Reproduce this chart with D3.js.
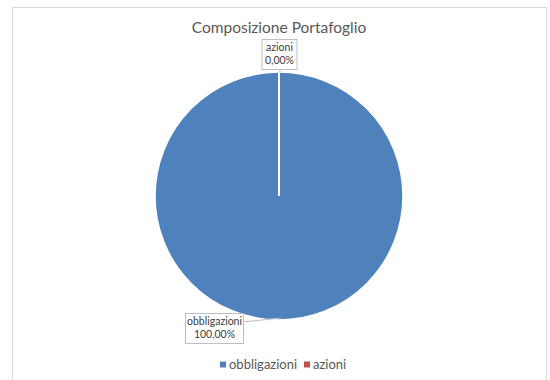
<!DOCTYPE html>
<html>
<head>
<meta charset="utf-8">
<script src="https://cdn.jsdelivr.net/npm/d3@7"></script>
<style>
  body { margin: 0; background: #fff; }
  svg { display: block; font-family: Lato, "Noto Sans", sans-serif; }
</style>
</head>
<body>
<div id="chart"></div>
<script>
const categories = ['obbligazioni', 'azioni'];
const values = [100, 0];
const labelTexts = ['100,00%', '0,00%'];
const colors = ['#4f81bd', '#c0504d'];

const W = 550, H = 380;
const cx = 279, cy = 196, radius = 124;

const svg = d3.select('#chart')
  .append('svg')
  .attr('width', W)
  .attr('height', H);

// chart frame
svg.append('rect')
  .attr('x', 12.5).attr('y', 7.5)
  .attr('width', 534).attr('height', 390)
  .attr('fill', '#fff')
  .attr('stroke', '#d9d9d9');

svg.append('text')
  .attr('x', cx).attr('y', 33)
  .attr('text-anchor', 'middle')
  .attr('font-size', 15.5)
  .attr('fill', '#595959')
  .text('Composizione Portafoglio');

const data = categories.map((c, i) => ({ name: c, value: values[i], label: labelTexts[i] }));

const pie = d3.pie().sort(null).value(d => d.value);
const arcs = pie(data);
const arc = d3.arc().innerRadius(0).outerRadius(radius);

const g = svg.append('g').attr('transform', `translate(${cx},${cy})`);

g.selectAll('.slice')
  .data(arcs)
  .enter()
  .append('path')
  .attr('class', 'slice')
  .attr('d', arc)
  .attr('fill', (d, i) => colors[i])
  .attr('stroke', '#fff')
  .attr('stroke-width', 1.5);

// zero slice boundary
g.selectAll('.edge')
  .data(arcs.filter(d => d.endAngle - d.startAngle === 0))
  .enter()
  .append('line')
  .attr('x1', 0).attr('y1', 0)
  .attr('x2', d => radius * Math.sin(d.startAngle))
  .attr('y2', d => -radius * Math.cos(d.startAngle))
  .attr('stroke', '#fff')
  .attr('stroke-width', 2);

// data labels
const labelPos = [
  { dx: -65, dy: 132, w: 58, h: 30, lx: 0, ly: 0 },
  { dx: 0, dy: -142, w: 35, h: 30 }
];

const lab = g.selectAll('.dlabel')
  .data(arcs)
  .enter()
  .append('g')
  .attr('class', 'dlabel');

lab.each(function (d, i) {
  const p = labelPos[i];
  const sel = d3.select(this);
  const mid = i === 0 ? Math.PI : d.startAngle;
  const ex = radius * Math.sin(mid), ey = -radius * Math.cos(mid);
  // leader line
  if (i === 0) {
    sel.append('line')
      .attr('x1', p.dx + p.w / 2).attr('y1', p.dy - 6)
      .attr('x2', ex + 2).attr('y2', ey - 2)
      .attr('stroke', '#bfbfbf');
  } else {
    sel.append('line')
      .attr('x1', p.dx + 1).attr('y1', p.dy + p.h / 2)
      .attr('x2', ex + 1).attr('y2', ey)
      .attr('stroke', '#bfbfbf');
  }
  sel.append('rect')
    .attr('x', p.dx - p.w / 2 + 0.5).attr('y', p.dy - p.h / 2 + 0.5)
    .attr('width', p.w).attr('height', p.h)
    .attr('fill', '#fff')
    .attr('stroke', '#bfbfbf');
  sel.append('text')
    .attr('x', p.dx + 0.5).attr('y', p.dy - 3)
    .attr('text-anchor', 'middle')
    .attr('font-size', 10.5)
    .attr('fill', '#404040')
    .text(d.data.name);
  sel.append('text')
    .attr('x', p.dx + 0.5).attr('y', p.dy + 10)
    .attr('text-anchor', 'middle')
    .attr('font-size', 10.5)
    .attr('fill', '#404040')
    .text(d.data.label);
});

// legend
const legendX = [220, 304];
const legend = svg.selectAll('.legend')
  .data(categories)
  .enter()
  .append('g')
  .attr('class', 'legend')
  .attr('transform', (d, i) => `translate(${legendX[i]},365)`);

legend.append('rect')
  .attr('x', 0).attr('y', -3.5)
  .attr('width', 6).attr('height', 6)
  .attr('fill', (d, i) => colors[i]);

legend.append('text')
  .attr('x', 9).attr('y', 4)
  .attr('font-size', 13)
  .attr('fill', '#595959')
  .text(d => d);
</script>
</body>
</html>
